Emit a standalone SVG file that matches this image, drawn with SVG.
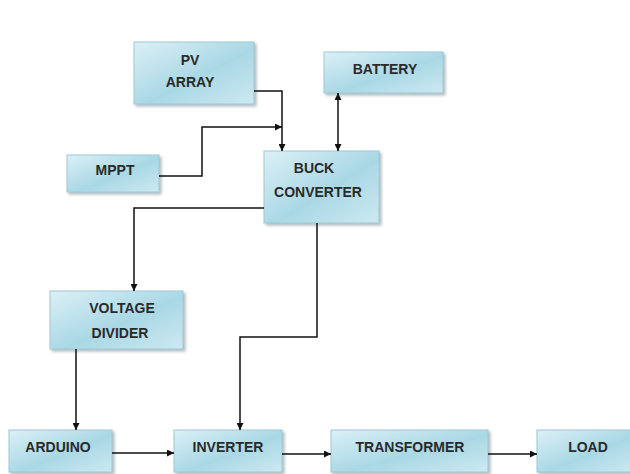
<svg xmlns="http://www.w3.org/2000/svg" width="630" height="474" viewBox="0 0 630 474">
  <defs>
    <linearGradient id="boxfill" x1="0" y1="0" x2="1" y2="1">
      <stop offset="0" stop-color="#dcf0f6"/>
      <stop offset="0.55" stop-color="#a9d8e5"/>
      <stop offset="1" stop-color="#cde9f1"/>
    </linearGradient>
    <filter id="shadow" x="-10%" y="-10%" width="125%" height="130%">
      <feDropShadow dx="2" dy="2" stdDeviation="1.5" flood-color="#7a8c92" flood-opacity="0.6"/>
    </filter>
    <marker id="arrow" viewBox="0 0 10 10" refX="10" refY="5" markerWidth="7" markerHeight="7" orient="auto-start-reverse" markerUnits="userSpaceOnUse">
      <path d="M0,0 L10,5 L0,10 z" fill="#111"/>
    </marker>
  </defs>
  <style>
    .box { fill: url(#boxfill); stroke: #9fc9d6; stroke-width: 1; filter: url(#shadow); }
    .label { font-family: "Liberation Sans", Arial, sans-serif; font-weight: bold; font-size: 14px; fill: #2a2a2a; text-anchor: middle; }
    .conn { fill: none; stroke: #111; stroke-width: 1.5; }
  </style>
  <rect width="630" height="474" fill="#ffffff"/>

  <g id="pv-array">
    <rect class="box" x="134" y="42" width="120" height="62"/>
    <text class="label" x="190" y="65">PV</text>
    <text class="label" x="190" y="87">ARRAY</text>
  </g>
  <g id="battery">
    <rect class="box" x="324" y="52" width="119" height="41"/>
    <text class="label" x="385" y="74">BATTERY</text>
  </g>
  <g id="mppt">
    <rect class="box" x="67" y="155" width="92" height="37"/>
    <text class="label" x="115" y="175">MPPT</text>
  </g>
  <g id="buck-converter">
    <rect class="box" x="264" y="151" width="115" height="72"/>
    <text class="label" x="314" y="173">BUCK</text>
    <text class="label" x="318" y="197">CONVERTER</text>
  </g>
  <g id="voltage-divider">
    <rect class="box" x="50" y="291" width="133" height="58"/>
    <text class="label" x="122" y="313">VOLTAGE</text>
    <text class="label" x="120" y="338">DIVIDER</text>
  </g>
  <g id="arduino">
    <rect class="box" x="9" y="430" width="103" height="42"/>
    <text class="label" x="58" y="452">ARDUINO</text>
  </g>
  <g id="inverter">
    <rect class="box" x="174" y="430" width="108" height="42"/>
    <text class="label" x="228" y="452">INVERTER</text>
  </g>
  <g id="transformer">
    <rect class="box" x="331" y="430" width="157" height="42"/>
    <text class="label" x="410" y="452">TRANSFORMER</text>
  </g>
  <g id="load">
    <rect class="box" x="537" y="430" width="100" height="42"/>
    <text class="label" x="588" y="452">LOAD</text>
  </g>

  <g id="connectors">
    <polyline class="conn" points="254,91 282,91 282,151" marker-end="url(#arrow)"/>
    <polyline class="conn" points="159,176 202,176 202,127 282,127" marker-end="url(#arrow)"/>
    <line class="conn" x1="338" y1="93" x2="338" y2="151" marker-start="url(#arrow)" marker-end="url(#arrow)"/>
    <polyline class="conn" points="264,208 134,208 134,291" marker-end="url(#arrow)"/>
    <polyline class="conn" points="317,223 317,337 240,337 240,430" marker-end="url(#arrow)"/>
    <line class="conn" x1="76" y1="349" x2="76" y2="430" marker-end="url(#arrow)"/>
    <line class="conn" x1="112" y1="453" x2="174" y2="453" marker-end="url(#arrow)"/>
    <line class="conn" x1="282" y1="454" x2="331" y2="454" marker-end="url(#arrow)"/>
    <line class="conn" x1="488" y1="454" x2="537" y2="454" marker-end="url(#arrow)"/>
  </g>
</svg>
